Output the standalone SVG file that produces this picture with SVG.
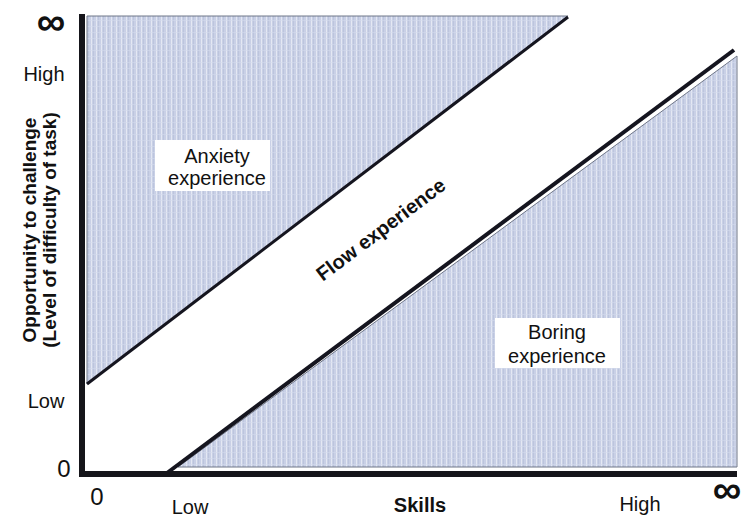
<svg xmlns="http://www.w3.org/2000/svg" width="741" height="517" viewBox="0 0 741 517">
<defs>
<pattern id="stripe" width="5" height="6" patternUnits="userSpaceOnUse">
<rect width="5" height="6" fill="#c9d0e6"/>
<rect x="1" width="1" height="6" fill="#e4e8f3"/>
<rect x="3" width="1" height="6" fill="#bcc5dd"/>
<rect x="0" y="2" width="5" height="1" fill="#d4dAec" opacity="0.6"/>
</pattern>
</defs>
<style>
text{font-family:"Liberation Sans",Arial,sans-serif;fill:#111}
.lbl{font-size:20px;text-anchor:middle}
.b{font-weight:bold}
.zero{font-size:24px;text-anchor:middle}
.inf{font-size:40px;font-weight:bold;text-anchor:middle}
.region{fill:url(#stripe);stroke:#6f7688;stroke-width:1}
.box{fill:#fff}
.diag{stroke:#15151f;fill:none;stroke-linecap:butt}
.axis{stroke:#15151a;stroke-width:6;fill:none}
</style>
<rect width="741" height="517" fill="#fff"/>
<g id="anxiety-region">
<polygon class="region" points="87,16 568,16 87,384"/>
<rect class="box" x="155" y="140" width="115" height="51"/>
<text class="lbl" x="217" y="163">Anxiety</text>
<text class="lbl" x="217" y="185">experience</text>
</g>
<g id="boring-region">
<polygon class="region" points="178,467 737,56 737,467"/>
<rect class="box" x="495" y="318" width="125" height="50"/>
<text class="lbl" x="557" y="339">Boring</text>
<text class="lbl" x="557" y="363">experience</text>
</g>
<g id="flow-region">
<text class="lbl b" transform="translate(385,235) rotate(-37)">Flow experience</text>
</g>
<g id="connectors">
<line class="diag" stroke-width="3" x1="87" y1="384" x2="568" y2="17"/>
<line class="diag" stroke-width="4" x1="167" y1="473" x2="734" y2="50"/>
<line class="axis" x1="82" y1="14" x2="82" y2="477"/>
<line class="axis" x1="79" y1="474" x2="737" y2="474"/>
</g>
<g id="y-axis-labels">
<text class="inf" x="51" y="35">∞</text>
<text class="lbl" x="44" y="81">High</text>
<text class="lbl" x="46" y="408">Low</text>
<text class="zero" x="64" y="477">0</text>
<text class="lbl b" style="font-size:19px" transform="translate(36,230) rotate(-90)">Opportunity to challenge</text>
<text class="lbl b" style="font-size:19px" transform="translate(56,230) rotate(-90)">(Level of difficulty of task)</text>
</g>
<g id="x-axis-labels">
<text class="zero" x="97" y="505">0</text>
<text class="lbl" x="190" y="514">Low</text>
<text class="lbl b" x="420" y="512">Skills</text>
<text class="lbl" x="640" y="511">High</text>
<text class="inf" x="727" y="503">∞</text>
</g>
</svg>
